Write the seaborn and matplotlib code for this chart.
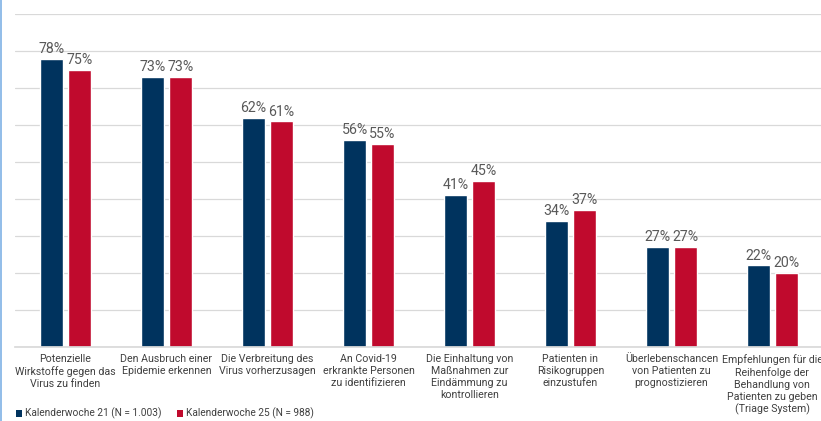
import pandas as pd
import matplotlib.pyplot as plt
import seaborn as sns
from matplotlib.patches import Patch
from matplotlib.lines import Line2D

categories = [
    "Potenzielle\nWirkstoffe gegen das\nVirus zu finden",
    "Den Ausbruch einer\nEpidemie erkennen",
    "Die Verbreitung des\nVirus vorherzusagen",
    "An Covid-19\nerkrankte Personen\nzu identifizieren",
    "Die Einhaltung von\nMaßnahmen zur\nEindämmung zu\nkontrollieren",
    "Patienten in\nRisikogruppen\neinzustufen",
    "Überlebenschancen\nvon Patienten zu\nprognostizieren",
    "Empfehlungen für die\nReihenfolge der\nBehandlung von\nPatienten zu geben\n(Triage System)",
]
kw21 = [78, 73, 62, 56, 41, 34, 27, 22]
kw25 = [75, 73, 61, 55, 45, 37, 27, 20]
series = ["Kalenderwoche 21 (N = 1.003)", "Kalenderwoche 25 (N = 988)"]
colors = ["#00335E", "#C00A2D"]

df = pd.DataFrame({
    "Kategorie": categories * 2,
    "Wert": kw21 + kw25,
    "Serie": [series[0]] * len(kw21) + [series[1]] * len(kw25),
})

sns.set_theme(style="white")
plt.rcParams["font.family"] = ["Roboto", "DejaVu Sans"]

fig = plt.figure(figsize=(8.21, 4.21), dpi=100)
ax = fig.add_axes([0.0183, 0.1765, 0.984, 0.7895])

sns.barplot(data=df, x="Kategorie", y="Wert", hue="Serie", palette=colors,
            width=0.55, gap=0.17, saturation=1, legend=False, ax=ax)

for cont in ax.containers:
    ax.bar_label(cont, fmt="%d%%", padding=2, fontsize=10.2, color="#595959")

ax.set_ylim(0, 90)
ax.set_xlim(-0.5, 7.5)
ax.set_yticks(range(0, 91, 10))
ax.set_yticklabels([])
ax.yaxis.grid(True, color="#D9D9D9", linewidth=0.9)
ax.set_axisbelow(True)
for s in ["top", "right", "left"]:
    ax.spines[s].set_visible(False)
ax.spines["bottom"].set_color("#D9D9D9")
ax.tick_params(axis="x", length=0, pad=5.5, labelsize=7.7, labelcolor="#404040")
ax.tick_params(axis="y", length=0)
for lbl in ax.get_xticklabels():
    lbl.set_linespacing(1.22)
ax.set_xlabel("")
ax.set_ylabel("")

handles = [Patch(facecolor=c, edgecolor="none") for c in colors]
fig.legend(handles, series, loc="lower left", bbox_to_anchor=(0.008, -0.018),
           ncol=2, frameon=False, fontsize=7.3, labelcolor="#404040",
           handlelength=0.6, handleheight=0.6, handletextpad=0.3, columnspacing=1.5)

# light blue border line on the left edge
fig.add_artist(Line2D([0.0015, 0.0015], [0, 1], color="#7FB2E5", linewidth=1.2,
                      transform=fig.transFigure))

plt.savefig("out.png", dpi=100)
